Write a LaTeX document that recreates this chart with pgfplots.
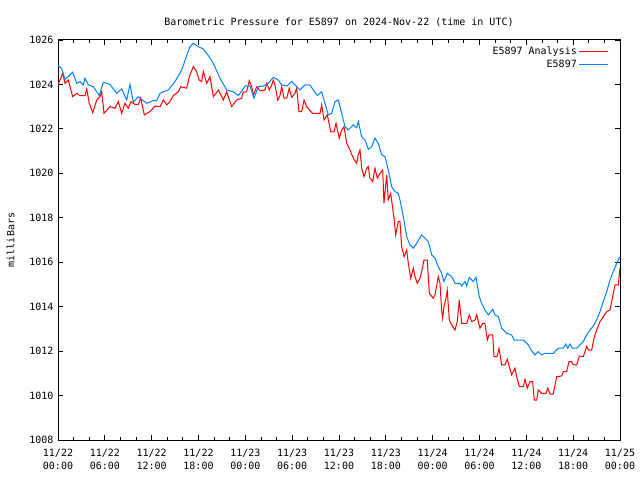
\documentclass[border=0pt]{standalone}
\usepackage{pgfplots}
\pgfplotsset{compat=1.18}
\usepackage{pgfplotstable}
\usepackage{fontspec}
\setmainfont{DejaVu Sans Mono}
\definecolor{gpred}{RGB}{255,0,0}
\definecolor{gpblue}{RGB}{0,128,255}

\pgfplotstableread{
h p
0.00 1023.98
0.26 1024.20
0.60 1024.50
0.90 1024.05
1.32 1024.20
1.54 1023.90
1.88 1023.45
2.40 1023.60
2.82 1023.50
3.46 1023.50
3.68 1023.80
4.01 1023.15
4.45 1022.73
4.96 1023.30
5.38 1023.45
5.60 1023.67
5.89 1022.70
6.66 1023.00
7.30 1022.93
7.73 1023.23
8.16 1022.70
8.58 1023.15
9.01 1022.93
9.35 1023.23
9.86 1023.10
10.29 1023.10
10.59 1023.38
11.06 1022.63
11.79 1022.78
12.43 1023.03
13.07 1023.00
13.49 1023.30
13.93 1023.08
14.35 1023.23
14.77 1023.50
15.41 1023.67
15.72 1023.90
16.49 1023.83
16.82 1024.35
17.33 1024.80
17.77 1024.58
18.06 1024.20
18.41 1024.13
18.61 1024.58
19.05 1024.05
19.47 1024.35
19.90 1023.45
20.54 1023.75
21.18 1023.30
21.61 1023.67
22.25 1023.00
22.89 1023.30
23.53 1023.38
23.74 1023.67
24.17 1023.67
24.51 1024.17
24.82 1023.90
25.02 1023.50
25.46 1023.90
25.88 1023.72
26.52 1023.75
26.74 1024.05
27.07 1023.75
27.38 1023.98
27.58 1024.20
27.80 1023.98
28.15 1023.30
28.44 1023.50
28.66 1023.90
28.95 1023.38
29.30 1023.38
29.63 1023.83
29.94 1023.42
30.36 1023.60
30.58 1023.83
30.87 1022.78
31.22 1022.78
31.52 1023.30
31.86 1023.00
32.28 1022.82
32.63 1022.70
33.57 1022.70
33.78 1023.08
34.08 1022.40
34.50 1022.63
34.94 1021.87
35.36 1021.87
35.62 1022.25
36.04 1021.58
36.34 1021.95
36.64 1022.10
36.99 1021.35
37.41 1021.05
37.83 1020.68
38.27 1020.45
38.47 1020.83
38.69 1021.05
38.91 1020.23
39.20 1019.85
39.55 1020.23
39.75 1020.30
39.97 1019.78
40.32 1019.63
40.61 1020.23
40.91 1019.78
41.25 1020.00
41.60 1020.15
41.76 1018.65
42.11 1019.93
42.31 1018.80
42.62 1019.10
42.88 1018.43
43.05 1017.98
43.26 1017.23
43.60 1017.83
43.81 1017.83
44.03 1016.70
44.33 1016.25
44.67 1016.55
44.88 1015.95
45.19 1015.28
45.52 1015.73
45.74 1015.35
46.03 1015.05
46.38 1015.28
46.59 1015.58
46.89 1016.10
47.31 1016.10
47.57 1014.60
48.08 1014.38
48.30 1014.53
48.72 1015.35
48.94 1015.05
49.15 1013.85
49.28 1013.48
49.45 1014.00
49.71 1014.38
49.87 1014.75
50.13 1013.40
50.44 1013.18
50.86 1012.95
51.15 1013.33
51.41 1014.30
51.72 1013.25
52.36 1013.25
52.69 1013.63
53.00 1013.33
53.42 1013.40
53.64 1013.63
54.06 1013.03
54.41 1013.25
54.70 1013.25
55.00 1012.50
55.22 1012.73
55.69 1012.73
55.86 1011.75
56.24 1011.75
56.50 1012.13
56.84 1011.38
57.27 1011.38
57.56 1011.63
57.82 1011.30
58.12 1010.93
58.55 1011.23
58.76 1010.85
59.10 1010.40
59.61 1010.40
59.83 1010.73
60.12 1010.33
60.47 1010.63
60.81 1010.63
61.02 1009.80
61.33 1009.80
61.53 1010.25
61.97 1010.10
62.52 1010.10
62.74 1010.33
63.03 1010.07
63.45 1010.07
63.89 1010.85
64.53 1010.88
64.74 1011.08
65.17 1011.08
65.47 1011.53
65.81 1011.53
66.02 1011.38
66.45 1011.38
66.79 1011.78
67.30 1011.75
67.73 1012.20
67.94 1012.05
68.37 1012.05
68.67 1012.58
69.01 1012.95
69.44 1013.33
69.86 1013.55
70.30 1013.78
70.72 1013.85
71.06 1014.45
71.36 1014.98
71.78 1014.98
72.00 1015.73
}\analysis

\pgfplotstableread{
h p
0.00 1024.87
0.47 1024.70
0.90 1024.23
1.32 1024.35
1.88 1024.55
2.40 1024.05
2.82 1024.13
3.24 1023.98
3.46 1024.28
3.88 1023.98
4.52 1023.90
5.29 1023.50
5.80 1024.10
6.66 1024.00
7.52 1023.60
8.16 1023.80
8.80 1023.30
9.22 1024.00
9.65 1023.20
10.29 1023.45
11.36 1023.15
12.21 1023.27
12.64 1023.27
13.07 1023.60
13.49 1023.67
14.13 1023.75
14.99 1024.13
15.85 1024.65
16.49 1025.30
16.91 1025.70
17.33 1025.85
17.97 1025.70
18.61 1025.60
19.26 1025.30
19.90 1024.95
20.75 1024.28
21.61 1023.75
22.46 1023.67
23.10 1023.50
23.74 1023.80
23.96 1023.93
24.60 1023.93
25.11 1023.38
25.66 1023.90
26.30 1023.93
26.94 1024.05
27.58 1024.32
28.22 1024.20
28.66 1023.98
29.30 1023.93
29.94 1024.13
30.36 1023.98
31.00 1023.75
31.64 1023.98
32.28 1023.98
32.71 1023.75
33.22 1023.50
33.78 1023.67
34.20 1023.15
34.63 1022.63
35.06 1022.70
35.49 1023.23
35.91 1023.30
36.34 1022.70
36.77 1022.10
37.19 1021.95
37.83 1022.18
38.27 1022.05
38.47 1022.33
38.91 1021.65
39.33 1021.50
39.75 1021.08
40.19 1021.20
40.61 1021.58
41.03 1021.35
41.47 1020.83
41.89 1020.75
42.31 1020.15
42.75 1019.40
43.17 1019.18
43.60 1019.10
43.81 1018.80
44.24 1018.05
44.67 1017.15
45.09 1016.78
45.52 1016.63
45.95 1016.85
46.59 1017.23
47.02 1017.08
47.44 1016.93
47.88 1016.33
48.30 1016.18
48.72 1015.80
49.15 1015.50
49.45 1015.13
49.87 1015.50
50.44 1015.35
50.86 1015.05
51.50 1015.05
51.72 1014.93
52.14 1015.13
52.36 1014.93
52.69 1015.32
53.20 1015.13
53.55 1015.32
53.97 1014.45
54.28 1014.15
54.70 1013.85
55.13 1013.63
55.69 1013.88
55.98 1013.63
56.41 1013.55
56.84 1013.03
57.48 1012.80
58.12 1012.73
58.42 1012.50
59.61 1012.50
60.25 1012.28
60.69 1012.00
61.11 1011.83
61.53 1011.98
61.97 1011.83
62.39 1011.90
63.45 1011.90
63.67 1011.98
64.10 1012.13
64.74 1012.13
65.04 1012.32
65.30 1012.13
65.59 1012.32
65.89 1012.13
66.45 1012.13
66.87 1012.28
67.30 1012.43
67.73 1012.73
68.16 1012.95
68.58 1013.13
69.01 1013.40
69.44 1013.78
69.86 1014.23
70.30 1014.68
70.72 1015.20
71.14 1015.58
71.57 1015.95
72.00 1016.25
}\station

\begin{document}
\begin{tikzpicture}
\path[use as bounding box] (0,0) rectangle (640pt,480pt);
\begin{axis}[
  at={(58pt,40pt)}, anchor=south west,
  scale only axis, width=562pt, height=400pt,
  xmin=0, xmax=72, ymin=1008, ymax=1026,
  font=\fontsize{10}{12}\selectfont,
  axis line style={line width=1pt, black},
  every tick/.style={black, line width=0.8pt},
  tick align=inside,
  major tick length=5pt, minor tick length=3pt,
  xtick={0,6,...,72},
  minor xtick={0,2,...,72},
  xticklabels={{11/22\\00:00},{11/22\\06:00},{11/22\\12:00},{11/22\\18:00},{11/23\\00:00},{11/23\\06:00},{11/23\\12:00},{11/23\\18:00},{11/24\\00:00},{11/24\\06:00},{11/24\\12:00},{11/24\\18:00},{11/25\\00:00}},
  xticklabel style={align=center, font=\fontsize{10}{13}\selectfont, yshift=-6pt},
  ytick={1008,1010,...,1026},
  yticklabel={\pgfmathprintnumber[assume math mode=true,set thousands separator={}]{\tick}},
  yticklabel style={xshift=-1pt},
  ylabel={milliBars},
  ylabel shift=8pt,
  title={Barometric Pressure for E5897 on 2024-Nov-22 (time in UTC)},
  title style={yshift=4pt},
  legend style={draw=none, fill=none, at={(rel axis cs:1,1)}, anchor=north east, xshift=-8pt, yshift=-3pt,
    row sep=0pt, font=\fontsize{10}{11}\selectfont,
    nodes={inner sep=2pt}},
  legend cell align=right,
  legend plot pos=right,
  legend image code/.code={\draw[#1, line width=1pt] (0pt,0pt) -- (29pt,0pt);},
]
\addplot[color=gpred, line width=1pt, no marks] table[x=h, y=p] {\analysis};
\addlegendentry{E5897 Analysis}
\addplot[color=gpblue, line width=1pt, no marks] table[x=h, y=p] {\station};
\addlegendentry{E5897}
\end{axis}
\end{tikzpicture}
\end{document}
